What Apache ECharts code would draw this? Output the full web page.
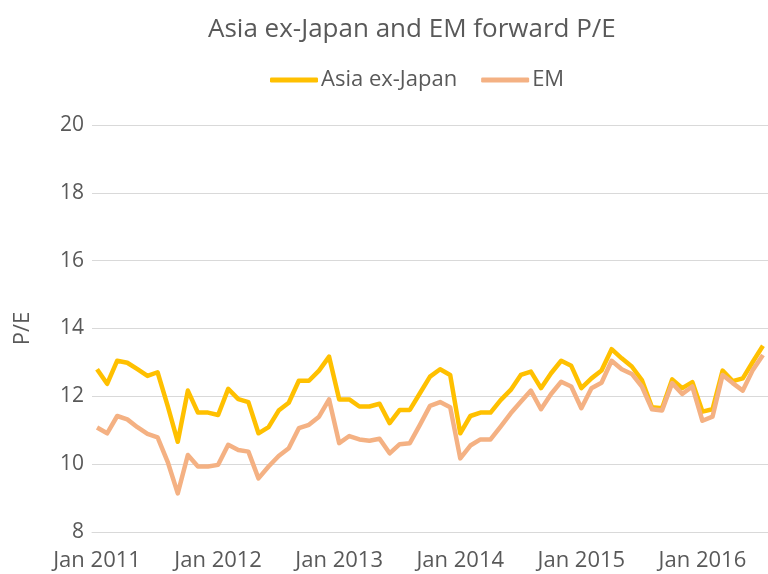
<!DOCTYPE html>
<html>
<head>
<meta charset="utf-8">
<script src="https://cdn.jsdelivr.net/npm/echarts@6/dist/echarts.min.js"></script>
<style>
  html, body { margin: 0; padding: 0; background: #fff; }
  #pe-chart { width: 768px; height: 574px; }
</style>
</head>
<body>
<div id="pe-chart"></div>
<script>
// monthly, Jan 2011 .. Jul 2016
const startYear = 2011;
const monthNames = ["Jan", "Feb", "Mar", "Apr", "May", "Jun", "Jul", "Aug", "Sep", "Oct", "Nov", "Dec"];

const asiaExJapan = [
  12.80, 12.37, 13.05, 12.99, 12.80, 12.60, 12.71, 11.72, 10.66, 12.17, 11.52, 11.52,
  11.45, 12.22, 11.92, 11.83, 10.91, 11.09, 11.58, 11.81, 12.46, 12.46, 12.76, 13.17,
  11.91, 11.91, 11.70, 11.70, 11.78, 11.21, 11.60, 11.60, 12.09, 12.58, 12.80, 12.63,
  10.91, 11.42, 11.52, 11.52, 11.89, 12.19, 12.63, 12.73, 12.24, 12.68, 13.05, 12.90,
  12.24, 12.53, 12.76, 13.39, 13.12, 12.88, 12.48, 11.68, 11.65, 12.50, 12.24, 12.42,
  11.55, 11.62, 12.76, 12.45, 12.53, 13.02, 13.49
];

const em = [
  11.08, 10.91, 11.42, 11.32, 11.09, 10.89, 10.79, 10.07, 9.14, 10.27, 9.93, 9.93,
  9.98, 10.57, 10.42, 10.37, 9.58, 9.93, 10.24, 10.47, 11.06, 11.16, 11.40, 11.91,
  10.62, 10.83, 10.73, 10.69, 10.75, 10.32, 10.59, 10.62, 11.16, 11.72, 11.83, 11.68,
  10.17, 10.55, 10.73, 10.73, 11.11, 11.50, 11.84, 12.17, 11.62, 12.07, 12.43, 12.29,
  11.65, 12.24, 12.40, 13.05, 12.80, 12.66, 12.29, 11.62, 11.58, 12.39, 12.07, 12.29,
  11.28, 11.40, 12.63, 12.39, 12.17, 12.78, 13.22
];

const months = asiaExJapan.map((v, i) =>
  monthNames[i % 12] + " " + (startYear + Math.floor(i / 12))
);

const textColor = "#595959";
const gridColor = "#d9d9d9";
const fontFamily = "'Open Sans', sans-serif";

const chart = echarts.init(document.getElementById("pe-chart"));
chart.setOption({
  animation: false,
  textStyle: { fontFamily: fontFamily },
  title: {
    text: "Asia ex-Japan and EM forward P/E",
    left: 203,
    top: 12,
    textStyle: {
      color: textColor,
      fontSize: 26,
      fontWeight: "normal",
      fontFamily: fontFamily
    }
  },
  legend: {
    top: 64,
    left: 265,
    itemWidth: 48,
    itemHeight: 5,
    itemGap: 24,
    icon: "roundRect",
    textStyle: { color: textColor, fontSize: 22, fontFamily: fontFamily, padding: [0, 0, 0, -2] },
    data: ["Asia ex-Japan", "EM"]
  },
  grid: {
    left: 92,
    right: 0,
    top: 125,
    bottom: 42,
    containLabel: false
  },
  xAxis: {
    type: "category",
    data: months,
    boundaryGap: true,
    axisLine: { lineStyle: { color: gridColor, width: 1 } },
    axisTick: {
      interval: 11,
      length: 7,
      lineStyle: { color: gridColor }
    },
    axisLabel: {
      interval: 11,
      color: textColor,
      fontSize: 22,
      margin: 18
    },
    splitLine: { show: false }
  },
  yAxis: {
    type: "value",
    min: 8,
    max: 20,
    interval: 2,
    name: "P/E",
    nameLocation: "middle",
    nameGap: 58,
    nameTextStyle: { color: textColor, fontSize: 22 },
    axisLine: { show: false },
    axisTick: { show: false },
    axisLabel: { color: textColor, fontSize: 21, margin: 8 },
    splitLine: { lineStyle: { color: gridColor, width: 1 } }
  },
  series: [
    {
      name: "Asia ex-Japan",
      type: "line",
      data: asiaExJapan,
      symbol: "none",
      color: "#ffc000",
      lineStyle: { width: 4.5, color: "#ffc000", join: "round" }
    },
    {
      name: "EM",
      type: "line",
      data: em,
      symbol: "none",
      color: "#f4b183",
      lineStyle: { width: 4.5, color: "#f4b183", join: "round" }
    }
  ]
});
</script>
</body>
</html>
